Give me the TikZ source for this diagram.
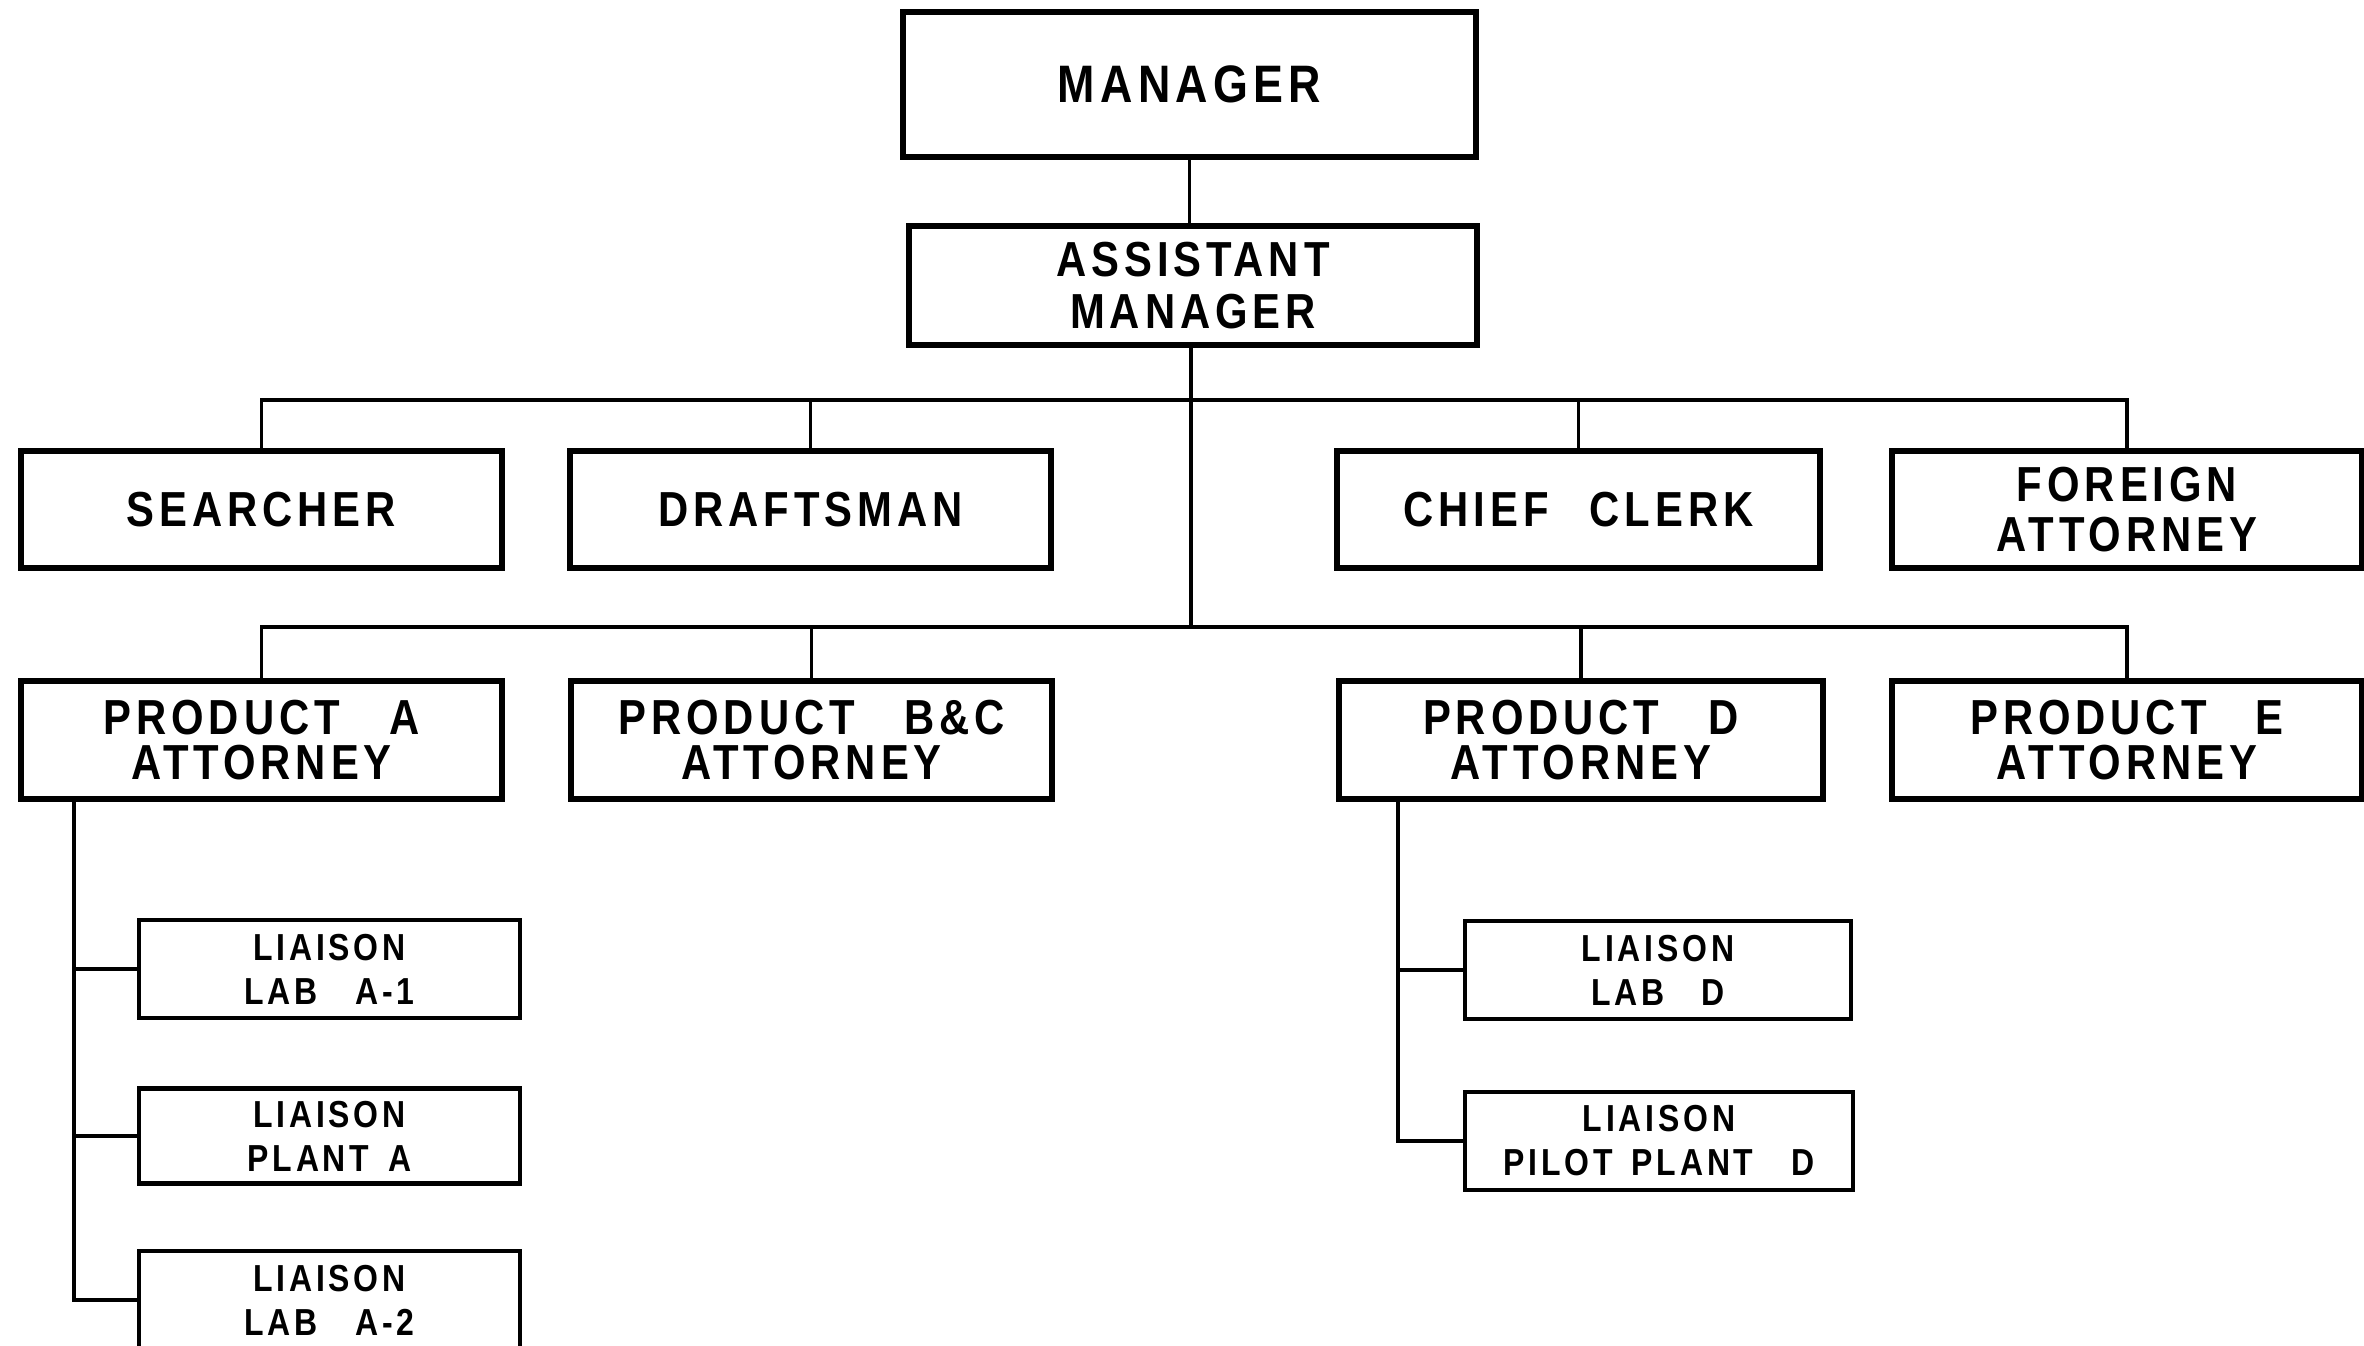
\documentclass[tikz,border=0pt]{standalone}
\usepackage{fontspec}
\newfontfamily\orgfont[FakeStretch=0.85,LetterSpace=10]{Liberation Sans}
\usetikzlibrary{calc}
\tikzset{
  post/.style={
    rectangle,
    draw,
    line width=1.8pt,
    align=center,
    inner sep=0pt,
    minimum width=4.81cm,
    minimum height=1.17cm,
    font=\orgfont\bfseries\fontsize{14}{13}\selectfont
  },
  liaison/.style={
    post,
    line width=1.4pt,
    minimum width=3.81cm,
    minimum height=0.98cm,
    font=\orgfont\bfseries\fontsize{10.7}{12.5}\selectfont
  },
  link/.style={line width=1.1pt}
}

\begin{document}
\begin{tikzpicture}
  \clip (0,0) rectangle (23.64,-13.46);
  \fill[white] (0,0) rectangle (23.64,-13.46);

  % top of the chart
  \node[post, minimum width=5.73cm, minimum height=1.45cm,
        font=\orgfont\bfseries\fontsize{15}{13}\selectfont] (mgr) at (11.895,-0.845) {MANAGER};
  \node[post, minimum width=5.68cm, minimum height=1.19cm] (asst) at (11.93,-2.855) {ASSISTANT\\[2pt]MANAGER};

  % staff row
  \node[post] (search) at (2.615,-5.095) {SEARCHER};
  \node[post] (draft) at (8.105,-5.095) {DRAFTSMAN};
  \node[post, minimum width=4.83cm] (clerk) at (15.785,-5.095) {CHIEF\enspace\ CLERK};
  \node[post, minimum width=4.70cm] (foreign) at (21.27,-5.095) {FOREIGN\\[1pt]ATTORNEY};

  % product attorneys
  \node[post, minimum height=1.18cm] (prodA) at (2.615,-7.40) {PRODUCT\quad A\\ATTORNEY};
  \node[post, minimum height=1.18cm] (prodBC) at (8.115,-7.40) {PRODUCT\quad B\&C\\ATTORNEY};
  \node[post, minimum height=1.18cm, minimum width=4.84cm] (prodD) at (15.81,-7.40) {PRODUCT\quad D\\ATTORNEY};
  \node[post, minimum height=1.18cm, minimum width=4.70cm] (prodE) at (21.27,-7.40) {PRODUCT\quad E\\ATTORNEY};

  % liaison posts
  \node[liaison] (labA1) at (3.295,-9.69) {LIAISON\\LAB\quad A-1};
  \node[liaison, minimum height=0.95cm] (plantA) at (3.295,-11.36) {LIAISON\\PLANT\enspace A};
  \node[liaison] (labA2) at (3.295,-13.00) {LIAISON\\LAB\quad A-2};
  \node[liaison, minimum width=3.86cm] (labD) at (16.58,-9.70) {LIAISON\\LAB\quad D};
  \node[liaison, minimum width=3.88cm] (pilotD) at (16.59,-11.41) {LIAISON\\PILOT\enspace PLANT\quad D};

  \coordinate (bus1) at (11.91,-4.00);
  \coordinate (bus2) at (11.91,-6.27);
  \coordinate (spineA) at (0.74,-7.99);
  \coordinate (spineD) at (13.98,-7.99);

  \draw[link] (mgr) -- (mgr |- asst.north);
  \draw[link] (asst.south -| bus2) -- (bus2);
  \foreach \n in {search,draft,clerk,foreign}
    \draw[link] (bus1) -| (\n.north);
  \foreach \n in {prodA,prodBC,prodD,prodE}
    \draw[link] (bus2) -| (\n.north);
  \foreach \n in {labA1,plantA,labA2}
    \draw[link] (spineA) |- (\n.west);
  \foreach \n in {labD,pilotD}
    \draw[link] (spineD) |- (\n.west);
\end{tikzpicture}
\end{document}
